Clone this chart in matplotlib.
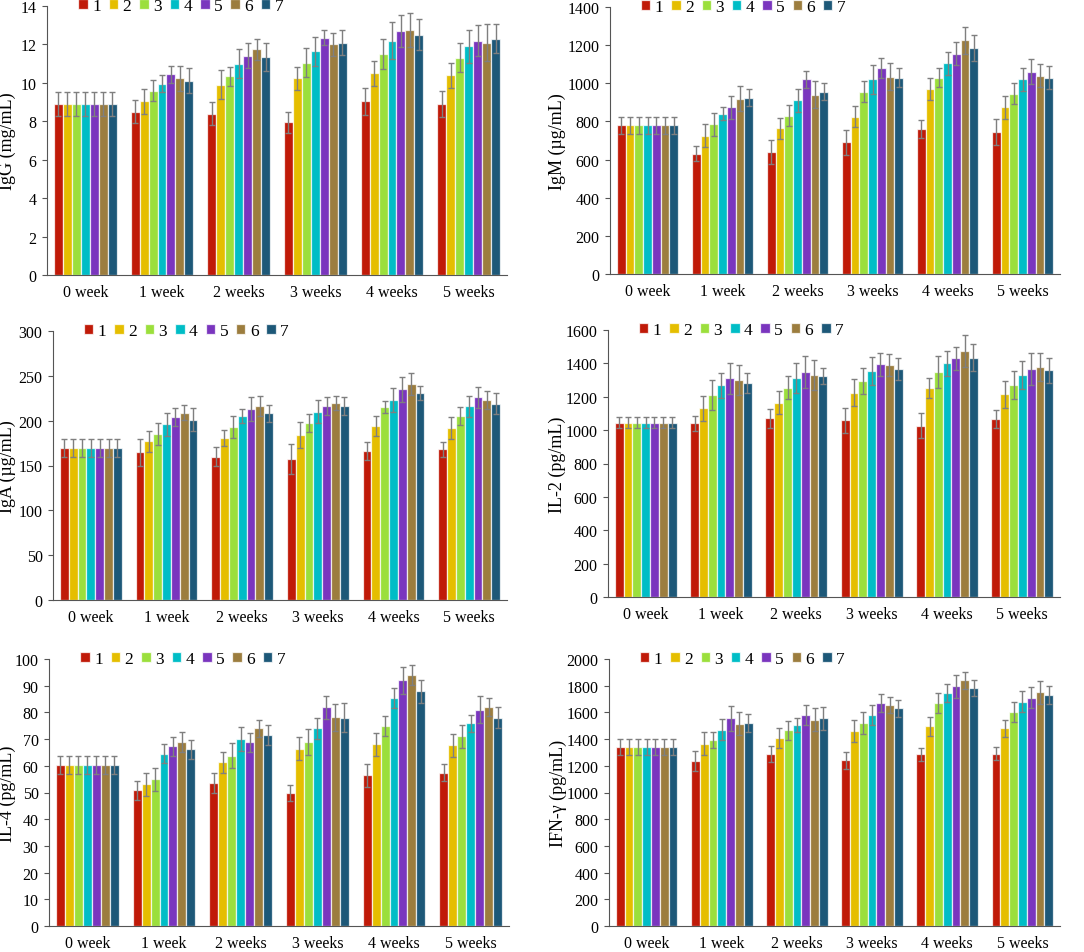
import matplotlib
matplotlib.use("Agg")
import matplotlib.pyplot as plt
import numpy as np

weeks = ["0 week", "1 week", "2 weeks", "3 weeks", "4 weeks", "5 weeks"]
groups = ["1", "2", "3", "4", "5", "6", "7"]
colors = ["#C01A08", "#E5BE00", "#9BDF3C", "#00BDC6", "#7A35BE", "#9C7D3E", "#1D5878"]

# values[week][group]
igg = [[8.9]*7,
       [8.5, 9.05, 9.6, 9.95, 10.45, 10.25, 10.1],
       [8.4, 9.9, 10.35, 11.0, 11.4, 11.75, 11.35],
       [7.95, 10.25, 11.05, 11.65, 12.35, 12.0, 12.1],
       [9.05, 10.5, 11.5, 12.2, 12.7, 12.75, 12.5],
       [8.9, 10.4, 11.3, 11.9, 12.2, 12.1, 12.3]]
igg_err = [[0.6]*7,
           [0.6, 0.65, 0.55, 0.45, 0.45, 0.65, 0.65],
           [0.6, 0.75, 0.5, 0.75, 0.65, 0.55, 0.75],
           [0.55, 0.6, 0.75, 0.75, 0.4, 0.6, 0.65],
           [0.7, 0.65, 0.8, 0.95, 0.85, 0.9, 0.8],
           [0.7, 0.65, 0.75, 0.85, 0.8, 0.95, 0.75]]

igm = [[780]*7,
       [630, 725, 785, 840, 875, 920, 925],
       [640, 765, 830, 910, 1020, 940, 955],
       [690, 825, 955, 1020, 1080, 1035, 1030],
       [760, 970, 1030, 1105, 1155, 1225, 1185],
       [745, 875, 945, 1020, 1060, 1040, 1030]]
igm_err = [[45]*7,
           [40, 60, 60, 35, 60, 65, 45],
           [65, 55, 55, 60, 45, 70, 45],
           [65, 55, 55, 75, 50, 70, 50],
           [45, 60, 50, 60, 60, 70, 70],
           [70, 60, 55, 60, 65, 60, 60]]

iga = [[169]*7,
       [165, 177, 185, 196, 204, 209, 201],
       [160, 181, 193, 205, 213, 216, 208],
       [157, 184, 197, 210, 216, 220, 216],
       [166, 194, 215, 223, 235, 241, 231],
       [168, 192, 205, 216, 226, 223, 219]]
iga_err = [[10]*7,
           [15, 12, 12, 13, 10, 8, 13],
           [11, 9, 12, 8, 13, 11, 10],
           [17, 14, 10, 13, 10, 8, 10],
           [10, 11, 7, 13, 14, 12, 8],
           [8, 12, 10, 12, 12, 10, 12]]

il2 = [[1045]*7,
       [1040, 1130, 1210, 1270, 1310, 1300, 1280],
       [1070, 1165, 1255, 1315, 1350, 1330, 1325],
       [1060, 1225, 1295, 1355, 1395, 1390, 1365],
       [1025, 1250, 1350, 1400, 1430, 1475, 1435],
       [1065, 1215, 1270, 1330, 1365, 1380, 1360]]
il2_err = [[35]*7,
           [45, 75, 90, 75, 95, 90, 60],
           [55, 70, 70, 90, 95, 90, 50],
           [75, 80, 80, 85, 70, 65, 65],
           [75, 60, 95, 75, 70, 95, 80],
           [55, 80, 85, 85, 95, 85, 75]]

il4 = [[60.3]*7,
       [50.8, 53.0, 55.0, 64.5, 67.3, 69.0, 66.2],
       [53.6, 61.3, 63.8, 70.2, 68.8, 74.0, 71.5],
       [49.8, 66.4, 68.9, 74.0, 82.0, 78.2, 78.0],
       [56.4, 68.0, 75.0, 85.3, 92.0, 94.0, 88.0],
       [57.4, 67.7, 71.0, 76.0, 81.0, 82.0, 78.0]]
il4_err = [[3.2]*7,
           [3.5, 4.3, 4.3, 3.5, 3.5, 3.8, 3.5],
           [3.8, 4.0, 4.8, 4.5, 3.5, 3.3, 3.8],
           [3.0, 4.3, 4.8, 3.8, 4.3, 5.0, 5.5],
           [4.2, 4.2, 3.8, 3.8, 5.0, 3.7, 4.3],
           [3.2, 4.3, 4.3, 3.2, 5.0, 3.5, 4.0]]

ifn = [[1340]*7,
       [1235, 1365, 1395, 1470, 1555, 1515, 1520],
       [1285, 1410, 1465, 1505, 1580, 1545, 1555],
       [1240, 1460, 1520, 1580, 1670, 1655, 1630],
       [1285, 1495, 1670, 1745, 1795, 1840, 1780],
       [1290, 1480, 1600, 1680, 1710, 1750, 1730]]
ifn_err = [[60]*7,
           [75, 85, 60, 80, 95, 85, 70],
           [60, 75, 70, 55, 75, 85, 85],
           [65, 85, 85, 75, 70, 60, 65],
           [50, 70, 75, 70, 85, 65, 60],
           [50, 65, 75, 80, 80, 85, 65]]

# (label, values, errors, ymax, step, axes box in pixels (l, t, r, b), ylabel right edge px)
panels = [
    ("IgG (mg/mL)", igg, igg_err, 14, 2, (47, 7, 507, 276), 16),
    ("IgM (\u00b5g/mL)", igm, igm_err, 1400, 200, (610, 8, 1060, 275), 566),
    ("IgA (\u00b5g/mL)", iga, iga_err, 300, 50, (53, 332, 507, 601), 16),
    ("IL-2 (pg/mL)", il2, il2_err, 1600, 200, (608, 331, 1060, 598), 566),
    ("IL-4 (pg/mL)", il4, il4_err, 100, 10, (49, 660, 509, 927), 16),
    ("IFN-\u03b3 (pg/mL)", ifn, ifn_err, 2000, 200, (609, 660, 1060, 927), 567),
]

plt.rcParams['font.family'] = ['Liberation Serif', 'DejaVu Serif']
W, H = 1084, 953
fig = plt.figure(figsize=(W/100, H/100), dpi=100)

slot = 0.117
bw = 0.117
x = np.arange(len(weeks))
for label, vals, errs, ymax, step, (l, t, r, b), lab_x in panels:
    ax = fig.add_axes([l/W, 1 - b/H, (r-l)/W, (b-t)/H])
    v = np.array(vals)
    e = np.array(errs)
    handles = []
    for g in range(len(groups)):
        off = (g - 3) * slot
        bars = ax.bar(x + off, v[:, g], width=bw, color=colors[g],
                      edgecolor=(1, 1, 1, 0.75), linewidth=0.9,
                      yerr=e[:, g], capsize=2.5,
                      error_kw=dict(ecolor="#7f7f7f", elinewidth=1.0, capthick=1.0),
                      label=groups[g], zorder=2)
        handles.append(bars)
    ax.set_xlim(-0.5, 5.5)
    ax.set_ylim(0, ymax)
    ax.set_yticks(np.arange(0, ymax + step/2, step))
    ax.set_xticks(x)
    ax.set_xticklabels(weeks)
    ax.tick_params(axis='x', length=0, labelsize=11.5, pad=6.5)
    ax.tick_params(axis='y', length=3.5, labelsize=11.5, color="#555555", pad=4)
    for s in ["top", "right"]:
        ax.spines[s].set_visible(False)
    ax.spines["left"].set_color("#555555")
    ax.spines["bottom"].set_color("#555555")
    ax.set_ylabel(label, fontsize=13)
    ax.yaxis.set_label_coords((lab_x - l) / (r - l), 0.5)
    ax.legend(handles=handles, ncol=7, loc="center left", bbox_to_anchor=(0.068, 1.0),
              frameon=False, fontsize=12.5, handlelength=0.55, handleheight=0.55,
              handletextpad=0.25, columnspacing=0.45, borderaxespad=0, borderpad=0)

fig.savefig("out.png", dpi=100)
